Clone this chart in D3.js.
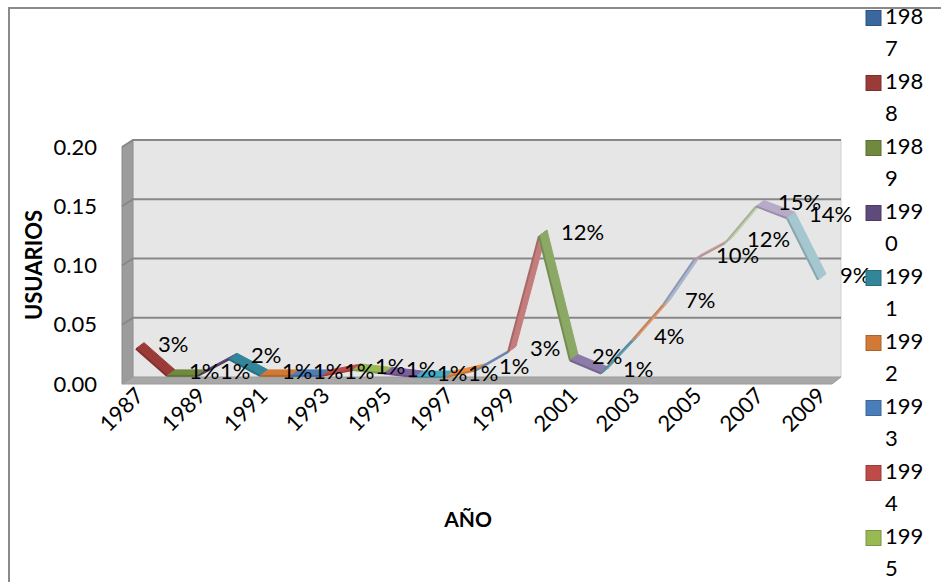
<!DOCTYPE html>
<html>
<head>
<meta charset="utf-8">
<script src="https://cdn.jsdelivr.net/npm/d3@7"></script>
<style>
  html, body { margin: 0; padding: 0; background: #fff; }
  svg { display: block; }
  text { font-family: Lato, "Open Sans", sans-serif; fill: #000; }
</style>
</head>
<body>
<svg id="chart" width="941" height="582"></svg>
<script>
// ---- data ----
const years = ["1987","1988","1989","1990","1991","1992","1993","1994","1995","1996","1997","1998",
               "1999","2000","2001","2002","2003","2004","2005","2006","2007","2008","2009"];
const values = [0.029, 0.006, 0.006, 0.020, 0.006, 0.006, 0.006, 0.011, 0.008, 0.005, 0.005, 0.011,
                0.026, 0.124, 0.019, 0.008, 0.036, 0.066, 0.104, 0.118, 0.149, 0.139, 0.087];
const seriesColors = ["#3A679E","#9A3B38","#71893F","#5E4A7B","#33859A","#D27A35",
                      "#4A7EBB","#BE4B48","#98B954","#7D60A0","#46AAC5","#EE8C3E",
                      "#7E9BC8","#C47D7C","#8CA865","#8C7AA8","#6AA7B8","#E39E72",
                      "#A9B7D1","#D7B1B1","#C6D3B2","#B7ABC9","#A4C7D0"];
const yTicks = [0, 0.05, 0.10, 0.15, 0.20];
const xTickLabels = ["1987","1989","1991","1993","1995","1997","1999","2001","2003","2005","2007","2009"];
const legendYears = ["1987","1988","1989","1990","1991","1992","1993","1994","1995"];
const yTitle = "USUARIOS";
const xTitle = "AÑO";

// ---- layout ----
const svg = d3.select("#chart");
const depth = {dx: 11, dy: -7};           // wall depth offset (front -> back)
const wallLeft = 133, wallRight = 841;    // back wall x extent
const yWall = d3.scaleLinear().domain([0, 0.2]).range([377, 140]);   // back wall scale
const yLine = d3.scaleLinear().domain([0, 0.2]).range([380, 143]);   // series plane
const x = d3.scalePoint().domain(years).range([140, 822]);

// outer frame
svg.append("path")
  .attr("d", "M9,582 L9,8 L941,8")
  .attr("fill", "none").attr("stroke", "#8A8A8A").attr("stroke-width", 2);

// back wall
svg.append("rect")
  .attr("x", wallLeft).attr("y", yWall(0.2))
  .attr("width", wallRight - wallLeft).attr("height", yWall(0) - yWall(0.2))
  .attr("fill", "#E6E6E6");
svg.append("line")
  .attr("x1", wallRight).attr("x2", wallRight)
  .attr("y1", yWall(0.2)).attr("y2", yWall(0))
  .attr("stroke", "#D0D0D0").attr("stroke-width", 1);

// left wall
const lw = [[wallLeft + 0, yWall(0.2)], [wallLeft, yWall(0)],
            [wallLeft - depth.dx, yWall(0) - depth.dy], [wallLeft - depth.dx, yWall(0.2) - depth.dy]];
svg.append("polygon").attr("points", lw.map(p => p.join(",")).join(" "))
  .attr("fill", "#9C9C9C").attr("stroke", "#8C8C8C").attr("stroke-width", 1);

// floor
const fl = [[wallLeft, yWall(0)], [wallRight, yWall(0)],
            [wallRight - depth.dx + 2, yWall(0) - depth.dy], [wallLeft - depth.dx, yWall(0) - depth.dy]];
svg.append("polygon").attr("points", fl.map(p => p.join(",")).join(" "))
  .attr("fill", "#A8A8A8").attr("stroke", "#9A9A9A").attr("stroke-width", 1);

// gridlines (back wall + left wall)
const grid = svg.append("g");
yTicks.filter(t => t > 0).forEach(t => {
  grid.append("path")
    .attr("d", `M${wallLeft - depth.dx},${yWall(t) - depth.dy} L${wallLeft},${yWall(t)} L${wallRight},${yWall(t)}`)
    .attr("fill", "none").attr("stroke", "#878787").attr("stroke-width", 2);
});

// y tick labels
svg.append("g").selectAll("text").data(yTicks).join("text")
  .attr("x", 97).attr("y", d => yWall(d) + 9)
  .attr("text-anchor", "end").attr("dominant-baseline", "middle")
  .attr("font-size", 22)
  .text(d => d3.format(".2f")(d));

// x tick labels
svg.append("g").selectAll("text").data(xTickLabels).join("text")
  .attr("transform", d => `translate(${x(d) + 5},${397}) rotate(-45)`)
  .attr("text-anchor", "end")
  .attr("font-size", 22)
  .text(d => d);

// axis titles
svg.append("text")
  .attr("transform", "translate(36,265) rotate(-90)")
  .attr("text-anchor", "middle").attr("dominant-baseline", "middle")
  .attr("font-size", 22).attr("font-weight", "bold")
  .text(yTitle);
svg.append("text")
  .attr("x", 468).attr("y", 522)
  .attr("text-anchor", "middle").attr("dominant-baseline", "middle")
  .attr("font-size", 21).attr("font-weight", "bold")
  .text(xTitle);

// ribbons: segment from year i-1 to year i takes series i colour
const f = {x: -4, y: 3}, b = {x: 4, y: -3};
const segs = d3.range(1, years.length).map(i => ({
  x0: x(years[i - 1]), y0: yLine(values[i - 1]),
  x1: x(years[i]), y1: yLine(values[i]),
  color: seriesColors[i]
}));
const rg = svg.append("g");
segs.forEach(s => {
  const pts = [[s.x0 + f.x, s.y0 + f.y], [s.x1 + f.x, s.y1 + f.y],
               [s.x1 + b.x, s.y1 + b.y], [s.x0 + b.x, s.y0 + b.y]];
  rg.append("polygon").attr("points", pts.map(p => p.join(",")).join(" "))
    .attr("fill", s.color).attr("stroke", s.color).attr("stroke-width", 1);
  rg.append("line")
    .attr("x1", s.x0 + f.x).attr("y1", s.y0 + f.y)
    .attr("x2", s.x1 + f.x).attr("y2", s.y1 + f.y)
    .attr("stroke", d3.color(s.color).darker(0.5)).attr("stroke-width", 2);
});

// data labels
svg.append("g").selectAll("text").data(years).join("text")
  .attr("x", d => x(d) + 18)
  .attr("y", (d, i) => yLine(values[i]) + 1)
  .attr("dominant-baseline", "middle")
  .attr("font-size", 22)
  .text((d, i) => d3.format(".0%")(values[i]));

// legend (wrapped labels, clipped at bottom)
const lg = svg.append("g");
legendYears.forEach((yr, i) => {
  const cy = 18 + 65 * i;
  const c = seriesColors[years.indexOf(yr)];
  lg.append("rect").attr("x", 866).attr("y", cy - 7.5).attr("width", 15).attr("height", 15)
    .attr("fill", c).attr("stroke", d3.color(c).darker(0.6)).attr("stroke-width", 1);
  lg.append("text").attr("x", 885).attr("y", cy).attr("dominant-baseline", "middle")
    .attr("font-size", 22).text(yr.slice(0, 3));
  lg.append("text").attr("x", 885).attr("y", cy + 32.5).attr("dominant-baseline", "middle")
    .attr("font-size", 22).text(yr.slice(3));
});
</script>
</body>
</html>
